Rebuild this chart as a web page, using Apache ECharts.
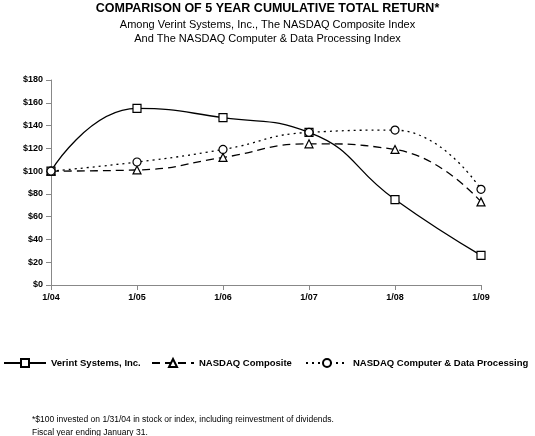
<!DOCTYPE html>
<html><head><meta charset="utf-8">
<script src="https://cdn.jsdelivr.net/npm/echarts@6/dist/echarts.min.js"></script>
<style>html,body{margin:0;padding:0;background:#fff}#chart{width:535px;height:436px}</style>
</head><body><div id="chart"></div>
<script>
var years = ["1/04", "1/05", "1/06", "1/07", "1/08", "1/09"];
var verint = [100, 155, 147, 134, 75, 26];
var composite = [100, 101, 112, 124, 119, 73];
var dataProc = [100, 108, 119, 134, 136, 84];
var yTicks = [0, 20, 40, 60, 80, 100, 120, 140, 160, 180];
var names = ["Verint Systems, Inc.", "NASDAQ Composite", "NASDAQ Computer & Data Processing"];

var chart = echarts.init(document.getElementById("chart"));
var font = "Liberation Sans, Arial, sans-serif";

function line(name, data, symbol, type) {
    return {
        name: name, type: "line", data: data, smooth: 0.5,
        symbol: symbol, symbolSize: 8,
        lineStyle: { color: "#000", width: 1.3, type: type },
        itemStyle: { color: "#fff", borderColor: "#000", borderWidth: 1.2 }
    };
}
function legend(name, left) {
    return {
        top: 353, left: left, itemWidth: 42, itemHeight: 10, itemGap: 4,
        textStyle: { fontSize: 9.5, fontWeight: "bold", color: "#000", fontFamily: font },
        data: [name]
    };
}

chart.setOption({
    animation: false,
    textStyle: { fontFamily: font },
    title: [
        { text: "COMPARISON OF 5 YEAR CUMULATIVE TOTAL RETURN*", left: "center", top: -3,
          textStyle: { fontSize: 12.5, fontWeight: "bold", color: "#000" } },
        { text: "Among Verint Systems, Inc., The NASDAQ Composite Index\nAnd The NASDAQ Computer & Data Processing Index",
          left: "center", top: 13, textStyle: { fontSize: 11, fontWeight: "normal", color: "#000", lineHeight: 14 } },
        { text: "*$100 invested on 1/31/04 in stock or index, including reinvestment of dividends.\nFiscal year ending January 31.",
          left: 27, top: 408, textStyle: { fontSize: 8.5, fontWeight: "normal", color: "#000", lineHeight: 13 } }
    ],
    legend: [legend(names[0], -2), legend(names[1], 146), legend(names[2], 300)],
    grid: { left: 51, right: 54, top: 80, bottom: 151 },
    xAxis: {
        type: "category", data: years, boundaryGap: false,
        axisLine: { lineStyle: { color: "#888" } },
        axisTick: { show: true, lineStyle: { color: "#888" } },
        axisLabel: { color: "#000", fontSize: 9, fontWeight: "bold", margin: 8 }
    },
    yAxis: {
        type: "value", min: 0, max: 180, interval: 20,
        axisLine: { show: true, lineStyle: { color: "#888" } },
        axisTick: { show: true, lineStyle: { color: "#888" } },
        splitLine: { show: false },
        axisLabel: { color: "#000", fontSize: 9, fontWeight: "bold",
            formatter: function (v) { return yTicks.indexOf(v) >= 0 ? "$" + v : ""; } }
    },
    series: [
        line(names[0], verint, "rect", "solid"),
        line(names[1], composite, "triangle", [8, 5]),
        line(names[2], dataProc, "circle", [2, 4])
    ]
});
</script></body></html>
